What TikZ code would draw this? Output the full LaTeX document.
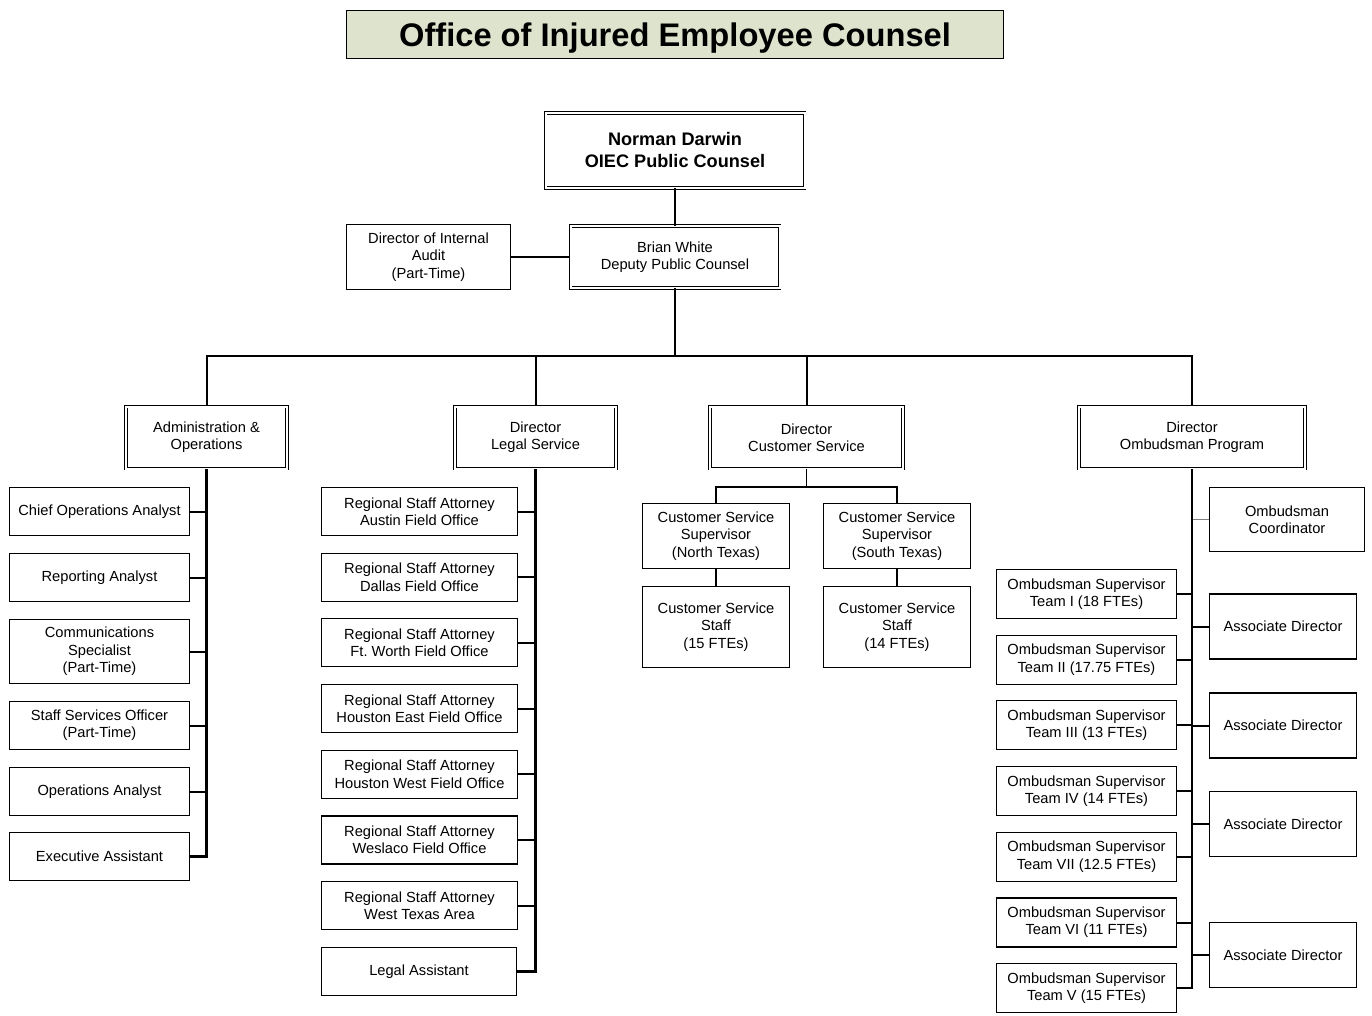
\documentclass[tikz,border=0pt]{standalone}
\usepackage{fontspec}
\setmainfont{Liberation Sans}
\definecolor{titlegreen}{RGB}{221,227,204}

\begin{document}
\begin{tikzpicture}[x=0.75pt, y=-0.75pt,
	box/.style 2 args={draw, line width=0.8pt, align=center, inner sep=0pt, minimum width=#1*0.75pt, minimum height=#2*0.75pt, font=\fontsize{11}{13}\selectfont},
	headbox/.style 2 args={box={#1}{#2}, double, double distance=1.5pt, line width=0.6pt},
	link/.style={line width=1.5pt},
	spine/.style={line width=1.9pt},
	thinlink/.style={line width=1pt}]
	\useasboundingbox (0,0) rectangle (1372,1015);

	% draw title
	\node[draw, fill=titlegreen, line width=0.8pt, minimum width=657*0.75pt, minimum height=48*0.75pt, inner sep=0pt, text depth=0pt, font=\fontsize{24.5}{28}\selectfont\bfseries] (title) at (675,34.5) {Office of Injured Employee Counsel};

	% draw top of the office
	\node[headbox={259}{75}, font=\fontsize{13.6}{16.5}\selectfont\bfseries] (counsel) at (675,150.5) {Norman Darwin\\OIEC Public Counsel};
	\node[headbox={209}{62}] (deputy) at (675,257) {Brian White\\Deputy Public Counsel};
	\node[box={164}{65}] (audit) at (428.5,257) {Director of Internal\\Audit\\(Part-Time)};
	\draw[thinlink] (counsel) -- (deputy);
	\draw[link] (audit) -- (deputy);

	% draw the four directors
	\node[headbox={161}{62}] (admin) at (206.5,437.5) {Administration \&\\Operations};
	\node[headbox={161}{62}] (legal) at (535.5,437.5) {Director\\Legal Service};
	\node[headbox={193}{62}] (custsvc) at (806.5,437.5) {Director\\Customer Service};
	\node[headbox={226}{62}] (ombuds) at (1192,437.5) {Director\\Ombudsman Program};

	% draw bus below the deputy
	\coordinate (bus) at (675,356);
	\draw[link] (deputy.south) -- (bus);
	\draw[link] (admin.north) |- (bus) -| (ombuds.north);
	\draw[link] (legal.north) -- (legal.north |- bus);
	\draw[link] (custsvc.north) -- (custsvc.north |- bus);

	% draw administration staff
	\foreach \y/\h/\txt [count=\i] in {511.5/48/Chief Operations Analyst, 577.5/48/Reporting Analyst, 651.5/64/Communications\\Specialist\\(Part-Time), 725.5/48/Staff Services Officer\\(Part-Time), 791.5/48/Operations Analyst, 856.5/48/Executive Assistant} {
		\node[box={180}{\h}] (a\i) at (99.5,\y) {\txt};
		\draw[link] (a\i.east) -- (a\i.east -| admin.south);
	}
	\draw[spine] (admin.south) |- (a6.east);

	% draw legal staff
	\foreach \office [count=\i] in {Austin Field Office, Dallas Field Office, Ft.\ Worth Field Office, Houston East Field Office, Houston West Field Office, Weslaco Field Office, West Texas Area} {
		\node[box={196}{48}] (l\i) at (419.5,{511.5+65.7*(\i-1)}) {Regional Staff Attorney\\\office};
		\draw[link] (l\i.east) -- (l\i.east -| legal.south);
	}
	\node[box={195}{48}] (l8) at (419,971.5) {Legal Assistant};
	\draw[spine] (legal.south) |- (l8.east);

	% draw customer service staff
	\node[box={147}{65}] (csn) at (716,536) {Customer Service\\Supervisor\\(North Texas)};
	\node[box={147}{65}] (css) at (897,536) {Customer Service\\Supervisor\\(South Texas)};
	\node[box={147}{81}] (cstn) at (716,627) {Customer Service\\Staff\\(15 FTEs)};
	\node[box={147}{81}] (csts) at (897,627) {Customer Service\\Staff\\(14 FTEs)};
	\coordinate (csbus) at (806.5,487);
	\draw[thinlink] (custsvc.south) -- (csbus);
	\draw[link] (csn.north) |- (csbus) -| (css.north);
	\draw[thinlink] (csn) -- (cstn);
	\draw[thinlink] (css) -- (csts);

	% draw ombudsman staff
	\node[box={155}{64}] (coord) at (1287,519.5) {Ombudsman\\Coordinator};
	\draw[black!50, line width=1pt] (coord.west) -- (coord.west -| ombuds.south);
	\foreach \team [count=\i] in {I (18 FTEs), II (17.75 FTEs), III (13 FTEs), IV (14 FTEs), VII (12.5 FTEs), VI (11 FTEs), V (15 FTEs)} {
		\node[box={180}{49}] (t\i) at (1086.5,{594+65.7*(\i-1)}) {Ombudsman Supervisor\\Team \team};
		\draw[link] (t\i.east) -- (t\i.east -| ombuds.south);
	}
	\foreach \y [count=\i] in {626.5,725.5,824,955} {
		\node[box={147}{65}] (ad\i) at (1283,\y) {Associate Director};
		\draw[link] (ad\i.west) -- (ad\i.west -| ombuds.south);
	}
	\draw[spine] (ombuds.south) |- (t7.east);
\end{tikzpicture}
\end{document}
